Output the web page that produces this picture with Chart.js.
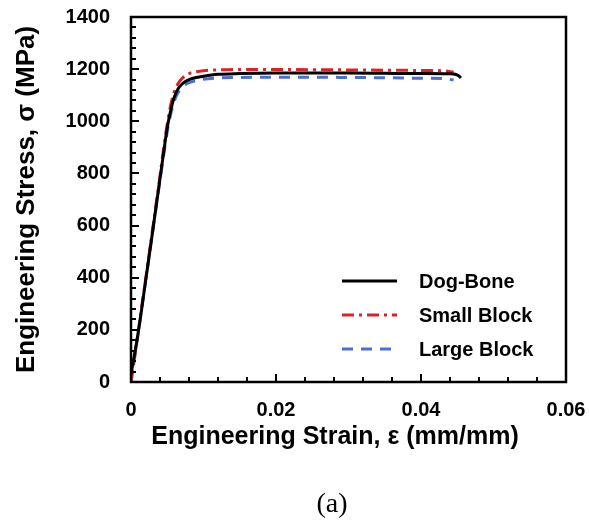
<!DOCTYPE html>
<html>
<head>
<meta charset="utf-8">
<script src="https://cdn.jsdelivr.net/npm/chart.js@4.4.1/dist/chart.umd.min.js"></script>
<style>
	html, body { margin: 0; padding: 0; background: #fff; }
	#chart { display: block; }
</style>
</head>
<body>
<canvas id="chart" width="589" height="520"></canvas>
<script>
( function () {
	'use strict';

	// ── Data ─────────────────────────────────────────────────────────────

	const X_TICKS = [ 0, 0.02, 0.04, 0.06 ];
	const Y_TICKS = [ 0, 200, 400, 600, 800, 1000, 1200, 1400 ];

	const dogBoneStrain = [ 0, 0.001, 0.002, 0.003, 0.004, 0.0045, 0.005, 0.0055, 0.006, 0.0065, 0.007, 0.0075, 0.008, 0.009, 0.010, 0.012, 0.015, 0.020, 0.025, 0.030, 0.035, 0.040, 0.044, 0.0452, 0.0455 ];
	const dogBoneStress = [ 30, 190, 385, 580, 780, 880, 975, 1045, 1095, 1125, 1142, 1153, 1160, 1168, 1173, 1180, 1183, 1185, 1185, 1185, 1184, 1183, 1182, 1175, 1166 ];

	const smallStrain = [ 0, 0.001, 0.002, 0.003, 0.004, 0.0045, 0.005, 0.0055, 0.006, 0.0065, 0.007, 0.0075, 0.008, 0.009, 0.010, 0.012, 0.015, 0.020, 0.025, 0.030, 0.035, 0.040, 0.043, 0.0445 ];
	const smallStress = [ 0, 195, 390, 590, 790, 895, 990, 1065, 1115, 1145, 1163, 1175, 1183, 1190, 1194, 1197, 1199, 1199, 1198, 1197, 1196, 1195, 1194, 1188 ];

	const largeStrain = [ 0, 0.001, 0.002, 0.003, 0.004, 0.0045, 0.005, 0.0055, 0.006, 0.0065, 0.007, 0.0075, 0.008, 0.009, 0.010, 0.012, 0.015, 0.020, 0.025, 0.030, 0.035, 0.040, 0.0435, 0.0445 ];
	const largeStress = [ 0, 190, 385, 580, 775, 870, 960, 1030, 1080, 1110, 1128, 1140, 1148, 1156, 1161, 1166, 1168, 1169, 1169, 1168, 1167, 1165, 1163, 1158 ];

	const X_TITLE = 'Engineering Strain, ε (mm/mm)';
	const Y_TITLE = 'Engineering Stress, σ (MPa)';
	const CAPTION = '(a)';

	const FONT = '"Liberation Sans", Arial, sans-serif';

	// ── Helpers ──────────────────────────────────────────────────────────

	function zip( xs, ys ) {
		return xs.map( function ( x, i ) { return { x: x, y: ys[ i ] }; } );
	}

	function line( label, xs, ys, color, width, dash ) {
		return {
			label: label,
			data: zip( xs, ys ),
			borderColor: color,
			backgroundColor: color,
			borderWidth: width,
			borderDash: dash,
			pointRadius: 0,
			fill: false,
			cubicInterpolationMode: 'monotone',
		};
	}

	// Frame, inward ticks, legend, x title and caption
	const decorations = {
		id: 'decorations',
		afterDatasetsDraw: function ( chart ) {
			const ctx = chart.ctx;
			const a = chart.chartArea;
			const xs = chart.scales.x;
			const ys = chart.scales.y;
			let v, p, major;

			ctx.save();
			ctx.strokeStyle = '#000';

			// minor + major ticks, pointing inward
			ctx.lineWidth = 2;
			ctx.beginPath();
			for ( v = 0; v <= 60; v += 4 ) {
				p = Math.round( xs.getPixelForValue( v / 1000 ) );
				major = v % 20 === 0;
				ctx.moveTo( p, a.bottom );
				ctx.lineTo( p, a.bottom - ( major ? 8 : 5 ) );
			}
			for ( v = 0; v <= 1400; v += 40 ) {
				p = Math.round( ys.getPixelForValue( v ) );
				major = v % 200 === 0;
				ctx.moveTo( a.left, p );
				ctx.lineTo( a.left + ( major ? 8 : 5 ), p );
			}
			ctx.stroke();

			// frame
			ctx.lineWidth = 2.5;
			ctx.strokeRect( a.left, a.top, a.right - a.left, a.bottom - a.top );

			// legend
			ctx.font = 'bold 20px ' + FONT;
			ctx.textBaseline = 'middle';
			ctx.textAlign = 'left';
			chart.data.datasets.forEach( function ( ds, i ) {
				const y = 281 + i * 34;
				ctx.beginPath();
				ctx.strokeStyle = ds.borderColor;
				ctx.lineWidth = ds.borderWidth;
				ctx.setLineDash( ds.borderDash || [] );
				ctx.moveTo( 342, y );
				ctx.lineTo( 397, y );
				ctx.stroke();
				ctx.setLineDash( [] );
				ctx.fillStyle = '#000';
				ctx.fillText( ds.label, 419, y + 1 );
			} );

			// x-axis title and caption
			ctx.textAlign = 'center';
			ctx.fillStyle = '#000';
			ctx.font = 'bold 25px ' + FONT;
			ctx.fillText( X_TITLE, 335, 437 );
			ctx.font = '28px "Liberation Serif", "Times New Roman", serif';
			ctx.fillText( CAPTION, 332, 505 );
			ctx.restore();
		},
	};

	// ── Chart ────────────────────────────────────────────────────────────

	new Chart( document.getElementById( 'chart' ).getContext( '2d' ), {
		type: 'line',
		data: {
			datasets: [
				line( 'Dog-Bone', dogBoneStrain, dogBoneStress, '#000000', 3, [] ),
				line( 'Small Block', smallStrain, smallStress, '#d8232a', 3, [ 12, 5, 3, 5 ] ),
				line( 'Large Block', largeStrain, largeStress, '#4a6fd4', 3, [ 11, 8 ] ),
			],
		},
		options: {
			responsive: false,
			animation: false,
			layout: { padding: { top: 17, right: 23, left: 0, bottom: 0 } },
			plugins: {
				legend: { display: false },
				tooltip: { enabled: false },
			},
			scales: {
				x: {
					type: 'linear',
					min: 0,
					max: 0.06,
					afterFit: function ( s ) {
						s.height = 138;
						s.paddingLeft = 0;
						s.paddingRight = 0;
					},
					afterBuildTicks: function ( s ) { s.ticks = X_TICKS.map( function ( v ) { return { value: v }; } ); },
					grid: { display: false, drawTicks: false },
					border: { display: false },
					ticks: {
						padding: 16,
						color: '#000',
						font: { family: FONT, size: 20, weight: 'bold' },
						callback: function ( v ) { return v === 0 ? '0' : v.toFixed( 2 ); },
					},
				},
				y: {
					type: 'linear',
					min: 0,
					max: 1400,
					afterFit: function ( s ) {
						s.width = 131;
						s.paddingTop = 0;
						s.paddingBottom = 0;
					},
					afterBuildTicks: function ( s ) { s.ticks = Y_TICKS.map( function ( v ) { return { value: v }; } ); },
					grid: { display: false, drawTicks: false },
					border: { display: false },
					ticks: {
						padding: 21,
						color: '#000',
						font: { family: FONT, size: 20, weight: 'bold' },
						callback: function ( v ) { return String( v ); },
					},
					title: {
						display: true,
						text: Y_TITLE,
						color: '#000',
						padding: { top: 11, bottom: 0 },
						font: { family: FONT, size: 26, weight: 'bold' },
					},
				},
			},
		},
		plugins: [ decorations ],
	} );
} )();
</script>
</body>
</html>
